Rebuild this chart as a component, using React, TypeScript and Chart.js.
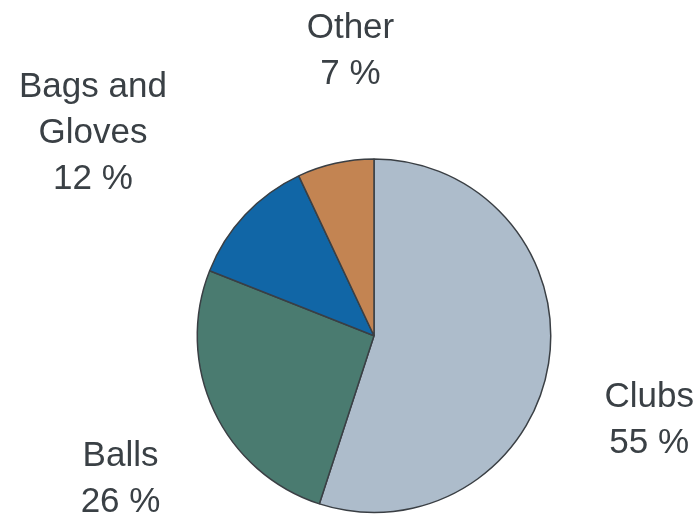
import React, { useEffect, useRef } from "react";
import { Chart, registerables } from "chart.js";

Chart.register(...registerables);

const categories = ["Clubs", "Balls", "Bags and\nGloves", "Other"];
const shares = [55, 26, 12, 7];
const sliceColors = ["#adbccb", "#4a7b70", "#1166a6", "#c38452"];

const labelNudge = [
  [-8, 37],
  [6, 19],
  [-72, -8],
  [39, -7],
];

const outsideLabels = {
  id: "outsideLabels",
  afterDatasetsDraw(chart: any) {
    const ctx = chart.ctx;
    const meta = chart.getDatasetMeta(0);
    const data = chart.data.datasets[0].data as number[];
    const labels = chart.data.labels as string[];
    const fontSize = 35;
    const lineH = 46;
    ctx.save();
    ctx.font = `${fontSize}px "Liberation Sans", Arial, sans-serif`;
    ctx.fillStyle = "#3a4045";
    ctx.textAlign = "center";
    ctx.textBaseline = "alphabetic";
    meta.data.forEach((arc: any, i: number) => {
      const p = arc.getProps(["x", "y", "startAngle", "endAngle", "outerRadius"], true);
      const mid = (p.startAngle + p.endAngle) / 2;
      const dist = p.outerRadius + 110;
      const cx = p.x + Math.cos(mid) * dist + labelNudge[i][0];
      const cy = p.y + Math.sin(mid) * dist + labelNudge[i][1];
      const lines = [...labels[i].split("\n"), `${data[i]} %`];
      const firstBase = cy + 12 - ((lines.length - 1) * lineH) / 2;
      lines.forEach((ln, j) => ctx.fillText(ln, cx, firstBase + j * lineH));
    });
    ctx.restore();
  },
};

export default function App() {
  const ref = useRef<HTMLCanvasElement>(null);
  useEffect(() => {
    document.body.style.margin = "0";
    const chart = new Chart(ref.current!, {
      type: "pie",
      data: {
        labels: categories,
        datasets: [
          {
            data: shares,
            backgroundColor: sliceColors,
            borderColor: "#3a3f44",
            borderWidth: 1.5,
            hoverOffset: 0,
            offset: 0,
          },
        ],
      },
      options: {
        animation: false,
        responsive: true,
        maintainAspectRatio: false,
        layout: { padding: { top: 158, bottom: 4.5, left: 196.5, right: 148.5 } },
        plugins: { legend: { display: false }, tooltip: { enabled: false } },
      },
      plugins: [outsideLabels],
    });
    return () => chart.destroy();
  }, []);
  return (
    <div style={{ width: 700, height: 518, position: "relative" }}>
      <canvas ref={ref} />
    </div>
  );
}
